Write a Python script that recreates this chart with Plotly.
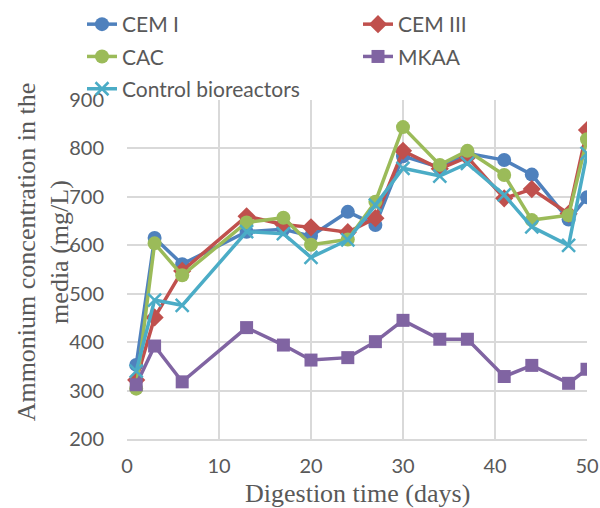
import plotly.graph_objects as go

days = [1, 3, 6, 13, 17, 20, 24, 27, 30, 34, 37, 41, 44, 48, 50]
cem1 = [353, 615, 561, 628, 633, 619, 669, 642, 784, 761, 790, 776, 746, 653, 699]
cem3 = [322, 451, 547, 660, 643, 637, 627, 656, 795, 758, 782, 697, 716, 665, 838]
cac = [304, 604, 538, 647, 657, 601, 612, 690, 844, 766, 795, 745, 652, 662, 819]
mkaa = [312, 392, 318, 430, 394, 363, 368, 401, 445, 406, 406, 329, 352, 315, 344]
control = [340, 487, 476, 628, 624, 575, 611, 683, 759, 743, 769, 704, 638, 600, 790]

series = [
    ("CEM I", cem1, "#4F81BD", "circle", 14, "legend"),
    ("CEM III", cem3, "#C0504D", "diamond", 14, "legend2"),
    ("CAC", cac, "#9BBB59", "circle", 14, "legend"),
    ("MKAA", mkaa, "#8064A2", "square", 13, "legend2"),
    ("Control bioreactors", control, "#4BACC6", "x-thin-open", 13, "legend"),
]

fig = go.Figure()
for name, vals, color, sym, size, leg in series:
    marker = dict(symbol=sym, size=size, color=color)
    if sym == "x-thin-open":
        marker["line"] = dict(color=color, width=2.5)
    fig.add_trace(go.Scatter(
        x=days, y=vals, name=name, mode="lines+markers", legend=leg, legendgroup=name,
        line=dict(color=color, width=3.5), marker=marker,
    ))

W, H = 600, 508
L, T, R, B = 127, 100, 13, 69
PW, PH = W - L - R, H - T - B

tickfont = dict(family="Lato", size=20, color="#595959")
legfont = dict(family="Lato", size=21, color="#595959")
leg_y = 1 + (T - 4) / PH
fig.update_layout(
    width=W, height=H,
    margin=dict(l=L, r=R, t=T, b=B, autoexpand=False),
    paper_bgcolor="white", plot_bgcolor="white",
    showlegend=True,
    legend=dict(
        orientation="v", xref="container", yref="paper",
        x=82 / W, y=leg_y, xanchor="left", yanchor="top",
        font=legfont, tracegroupgap=2, bgcolor="rgba(0,0,0,0)",
    ),
    legend2=dict(
        orientation="v", xref="container", yref="paper",
        x=358 / W, y=leg_y, xanchor="left", yanchor="top",
        font=legfont, tracegroupgap=2, bgcolor="rgba(0,0,0,0)",
    ),
    xaxis=dict(
        range=[0, 50], tickvals=[0, 10, 20, 30, 40, 50],
        showgrid=True, gridcolor="#D9D9D9", gridwidth=1.5,
        zeroline=False, showline=True, linecolor="#D9D9D9", linewidth=1.5,
        ticks="", tickfont=tickfont, ticklabelstandoff=8,
    ),
    yaxis=dict(
        range=[200, 900], tickvals=[200, 300, 400, 500, 600, 700, 800, 900],
        showgrid=True, gridcolor="#D9D9D9", gridwidth=1.5,
        zeroline=False, showline=False,
        ticks="", tickfont=tickfont, ticklabelstandoff=22,
    ),
    annotations=[
        dict(text="Digestion time (days)", xref="paper", yref="paper",
             x=0.5, y=-(493 - 439) / PH, xanchor="center", yanchor="middle", showarrow=False,
             font=dict(family="Liberation Serif", size=26, color="#595959")),
        dict(text="Ammonium concentration in the<br>media (mg/L)", xref="paper", yref="paper",
             x=(43.5 - L) / PW, y=0.552, xanchor="center", yanchor="middle", showarrow=False, textangle=-90,
             font=dict(family="Liberation Serif", size=26, color="#595959")),
    ],
)

fig.write_html(
    "out.html",
    config={"displayModeBar": False},
    post_script="document.body.style.margin='0';document.body.style.overflow='hidden';",
)
